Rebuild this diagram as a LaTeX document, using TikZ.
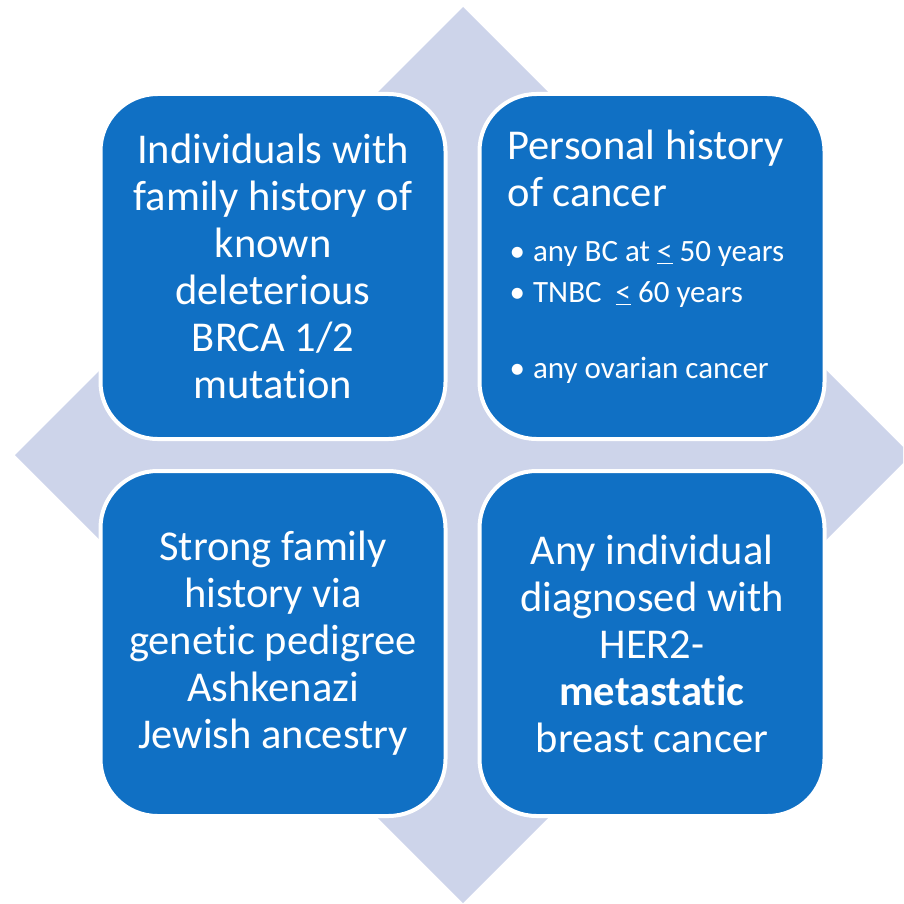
\documentclass[tikz,border=0pt]{standalone}
\usepackage{fontspec}
\setmainfont{Carlito}[Ligatures=CommonOff]
\usetikzlibrary{positioning}
\definecolor{quadblue}{RGB}{16,112,196}
\definecolor{diamlav}{RGB}{205,212,234}

\begin{document}
\begin{tikzpicture}[x=1pt, y=-1pt,
  quad/.style={rectangle, rounded corners=57pt, draw=white, line width=4pt,
               fill=quadblue, minimum width=345pt, minimum height=345pt,
               inner sep=0pt, text=white, align=center,
               font=\fontsize{42.5}{47}\selectfont},
  heading/.style={text=white, align=left, inner sep=0pt,
                  font=\fontsize{42.5}{47}\selectfont},
  items/.style={text=white, align=left, inner sep=0pt,
                font=\fontsize{31}{41}\selectfont},
  node distance=28pt and 30pt,
]
\clip (0,0) rectangle (903,904);

% background diamond
\fill[diamlav] (463,7) -- (911,455) -- (463,903) -- (15,455) -- cycle;

% four quadrants
\node[quad] (fam) at (273,266.5)
  {Individuals with\\family history of\\known\\deleterious\\BRCA 1/2\\mutation};
\node[quad, right=of fam] (pers) {};
\node[quad, below=of fam] (ped)
  {Strong family\\history via\\genetic pedigree\\Ashkenazi\\Jewish ancestry};
\node[quad, below=of pers] (meta)
  {Any individual\\diagnosed with\\HER2-\\\textbf{metastatic}\\breast cancer};

% personal history text
\node[heading, below right=38pt and 30pt of pers.north west] (perstitle)
  {Personal history\\of cancer};
\node[items, below right=149pt and 32pt of pers.north west] (perslist)
  {•\hspace{8pt}any BC at \underline{<} 50 years\\
   •\hspace{8pt}TNBC\ \ \underline{<} 60 years\\[35pt]
   •\hspace{8pt}any ovarian cancer};
\end{tikzpicture}
\end{document}
